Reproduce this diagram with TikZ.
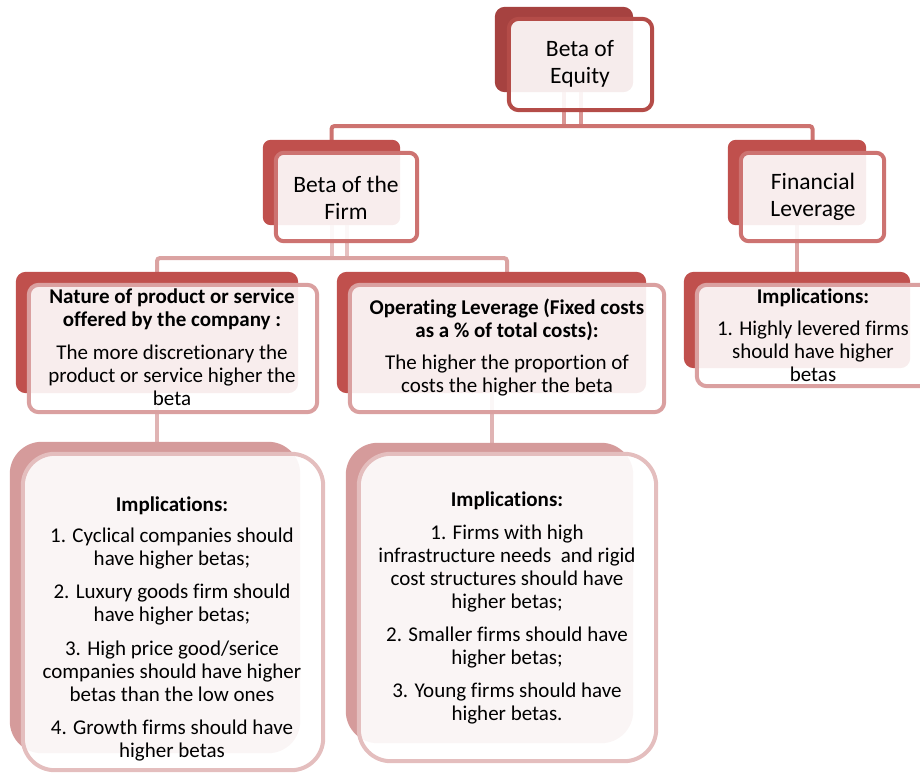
\documentclass[tikz,border=0pt]{standalone}
\usepackage{fontspec}
\setmainfont{Carlito}[Ligatures=NoCommon]
\usetikzlibrary{fit}

% palette
\definecolor{backA}{RGB}{166,66,64}
\definecolor{edgeA}{RGB}{180,76,72}
\definecolor{backB}{RGB}{192,80,77}
\definecolor{edgeB}{RGB}{205,115,113}
\definecolor{edgeC}{RGB}{218,160,160}
\definecolor{backD}{RGB}{213,155,155}
\definecolor{edgeD}{RGB}{228,190,190}
\definecolor{linkA}{RGB}{205,115,112}
\definecolor{linkAv}{RGB}{218,150,148}
\definecolor{linkB}{RGB}{219,163,162}
\definecolor{linkBv}{RGB}{230,192,192}
\definecolor{linkC}{RGB}{224,180,180}

\tikzset{
  frontbox/.style={fill=white, fill opacity=0.9, draw=#1, draw opacity=1,
                   line width=4pt},
  link/.style={draw=#1, line width=4pt},
  bigtext/.style={align=center, font=\fontsize{23.5}{27}\selectfont, text=black},
  smalltext/.style={align=center, font=\fontsize{21}{23}\selectfont, text=black},
}

\begin{document}
\begin{tikzpicture}[x=1pt,y=-1pt]
\useasboundingbox (0,0) rectangle (920,774);
\clip (0,0) rectangle (920,774);

% ---------- box frames (named, used by the connectors) ----------
\node[fit={(495,7)(633,92)}, inner sep=0pt] (eqB) {};
\node[fit={(509,19)(652,110)}, inner sep=0pt] (eqF) {};
\node[fit={(263,140)(400,225)}, inner sep=0pt] (firmB) {};
\node[fit={(276,153)(417,241)}, inner sep=0pt] (firmF) {};
\node[fit={(728,140)(866,225)}, inner sep=0pt] (levB) {};
\node[fit={(741,153)(884,241)}, inner sep=0pt] (levF) {};
\node[fit={(16,272)(298,393)}, inner sep=0pt] (natB) {};
\node[fit={(29,285)(317,412)}, inner sep=0pt] (natF) {};
\node[fit={(337,272)(646,393)}, inner sep=0pt] (opB) {};
\node[fit={(350,285)(664,412)}, inner sep=0pt] (opF) {};
\node[fit={(684,272)(910,368)}, inner sep=0pt] (finB) {};
\node[fit={(697,285)(930,386)}, inner sep=0pt] (finF) {};
\node[fit={(10,442)(300,753)}, inner sep=0pt] (impLB) {};
\node[fit={(23,454)(323,770)}, inner sep=0pt] (impLF) {};
\node[fit={(346,443)(633,743)}, inner sep=0pt] (impMB) {};
\node[fit={(359,454)(656,761)}, inner sep=0pt] (impMF) {};

% ---------- connectors ----------
\coordinate (bus1) at (0,126);
\coordinate (bus2) at (0,258);

\draw[link=linkAv] (eqB.south) -- (eqB.south |- bus1);
\draw[link=linkAv] (eqF.south |- eqB.south) -- (eqF.south |- bus1);
\draw[link=linkA, rounded corners=3pt]
  (firmB.north) |- (bus1 -| levF.north) -- (levF.north);

\draw[link=linkBv] (firmB.south) -- (firmB.south |- bus2);
\draw[link=linkBv] (firmF.south |- firmB.south) -- (firmF.south |- bus2);
\draw[link=linkB, rounded corners=3pt]
  (natB.north) |- (bus2 -| opF.north) -- (opF.north);

\draw[link=linkB] (levB.south) -- (finB.north);
\draw[link=linkC] (natB.south) -- (natB.south |- impLB.north);
\draw[link=linkC] (opB.south) -- (opB.south |- impMB.north);

% ---------- boxes ----------
\fill[backA, rounded corners=10pt] (eqB.north west) rectangle (eqB.south east);
\path[frontbox=edgeA, rounded corners=10pt] (eqF.north west) rectangle (eqF.south east);

\fill[backB, rounded corners=8pt] (firmB.north west) rectangle (firmB.south east);
\path[frontbox=edgeB, rounded corners=8pt] (firmF.north west) rectangle (firmF.south east);

\fill[backB, rounded corners=8pt] (levB.north west) rectangle (levB.south east);
\path[frontbox=edgeB, rounded corners=8pt] (levF.north west) rectangle (levF.south east);

\fill[backB, rounded corners=10pt] (natB.north west) rectangle (natB.south east);
\path[frontbox=edgeC, rounded corners=10pt] (natF.north west) rectangle (natF.south east);

\fill[backB, rounded corners=10pt] (opB.north west) rectangle (opB.south east);
\path[frontbox=edgeC, rounded corners=10pt] (opF.north west) rectangle (opF.south east);

\fill[backB, rounded corners=10pt] (finB.north west) rectangle (finB.south east);
\path[frontbox=edgeC, rounded corners=10pt] (finF.north west) rectangle (finF.south east);

\fill[backD, rounded corners=32pt] (impLB.north west) rectangle (impLB.south east);
\path[frontbox=edgeD, rounded corners=32pt] (impLF.north west) rectangle (impLF.south east);

\fill[backD, rounded corners=32pt] (impMB.north west) rectangle (impMB.south east);
\path[frontbox=edgeD, rounded corners=32pt] (impMF.north west) rectangle (impMF.south east);

% ---------- texts ----------
\node[bigtext] (tEq) at (580,63.5) {Beta of\\Equity};
\node[bigtext] (tFirm) at (346,197.5) {Beta of the\\Firm};
\node[bigtext] (tLev) at (813,197) {Financial\\Leverage};

\node[smalltext] (tNat) at (172,347.5)
  {\textbf{Nature of product or service}\\\textbf{offered by the company :}\\[10pt]
   The more discretionary the\\product or service higher the\\beta};
\node[smalltext] (tOp) at (507,347.5)
  {\textbf{Operating Leverage (Fixed costs}\\\textbf{as a \% of total costs):}\\[9pt]
   The higher the proportion of\\costs the higher the beta};
\node[smalltext] (tFin) at (813,335.5)
  {\textbf{Implications:}\\[9pt]
   1. Highly levered firms\\should have higher\\betas};
\node[smalltext] (tImpL) at (172,629)
  {\textbf{Implications:}\\[8pt]
   1. Cyclical companies should\\have higher betas;\\[10pt]
   2. Luxury goods firm should\\have higher betas;\\[11pt]
   3. High price good/serice\\companies should have higher\\betas than the low ones\\[10pt]
   4. Growth firms should have\\higher betas};
\node[smalltext] (tImpM) at (507,607.5)
  {\textbf{Implications:}\\[10pt]
   1. Firms with high\\infrastructure needs\ \ and rigid\\cost structures should have\\higher betas;\\[10pt]
   2. Smaller firms should have\\higher betas;\\[10pt]
   3. Young firms should have\\higher betas.};
\end{tikzpicture}
\end{document}
